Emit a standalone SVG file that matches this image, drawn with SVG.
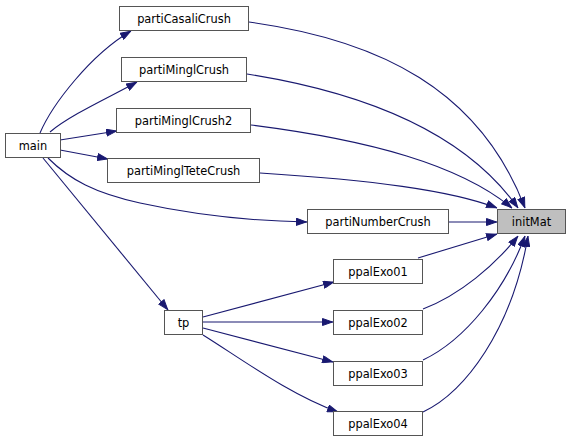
<svg xmlns="http://www.w3.org/2000/svg" width="571" height="443" viewBox="0 0 571 443">
<style>
.n rect{fill:#ffffff;stroke:#555555;stroke-width:1}
.n.root rect{fill:#bfbfbf}
.n text{font-family:"DejaVu Sans",sans-serif;font-size:11.4px;fill:#000000;text-anchor:middle}
.e path{fill:none;stroke:#191970;stroke-width:1.1;marker-end:url(#arr)}
</style>
<defs>
<marker id="arr" viewBox="0 0 11 8" refX="11" refY="4" markerWidth="11" markerHeight="8" markerUnits="userSpaceOnUse" orient="auto">
<path d="M0.5,0.5 L10.5,4 L0.5,7.5 z" fill="#191970" stroke="#191970" stroke-width="1"/>
</marker>
</defs>
<rect width="571" height="443" fill="#ffffff"/>
<g id="edges" class="e">
<path d="M40,133 C52,105 90,55 131,31"/>
<path d="M50,132 C70,115 110,97 137,82"/>
<path d="M60,140 L117,131"/>
<path d="M60,150 L108,159"/>
<path d="M48,158 C70,180 95,193 140,203 C195,215 250,221 307,222"/>
<path d="M43,158 L168,310"/>
<path d="M203,317 L334,282"/>
<path d="M203,322 L333,322"/>
<path d="M203,328 L333,362"/>
<path d="M203,335 C240,358 290,395 338,412"/>
<path d="M249,22 C380,40 480,90 525,208"/>
<path d="M247,74 C380,95 470,140 518,208"/>
<path d="M251,125 C370,140 460,165 512,208"/>
<path d="M260,173 C370,180 450,190 497,208"/>
<path d="M449,222 L497,222"/>
<path d="M418,258 L497,234"/>
<path d="M423,309 C460,295 495,265 518,236"/>
<path d="M423,360 C465,340 505,290 525,236"/>
<path d="M423,412 C465,392 512,330 528,236"/>
</g>
<g id="main" class="n"><rect x="5.5" y="133.5" width="55" height="24"/><text x="33" y="150">main</text></g>
<g id="partiCasaliCrush" class="n"><rect x="119.5" y="6.5" width="129" height="24"/><text x="184" y="23">partiCasaliCrush</text></g>
<g id="partiMinglCrush" class="n"><rect x="121.5" y="57.5" width="125" height="24"/><text x="184" y="74">partiMinglCrush</text></g>
<g id="partiMinglCrush2" class="n"><rect x="116.5" y="108.5" width="134" height="24"/><text x="183.5" y="125">partiMinglCrush2</text></g>
<g id="partiMinglTeteCrush" class="n"><rect x="107.5" y="158.5" width="152" height="24"/><text x="183.5" y="175">partiMinglTeteCrush</text></g>
<g id="partiNumberCrush" class="n"><rect x="307.5" y="209.5" width="141" height="24"/><text x="378" y="226">partiNumberCrush</text></g>
<g id="initMat" class="n root"><rect x="497.5" y="209.5" width="68" height="24"/><text x="531.5" y="226">initMat</text></g>
<g id="ppalExo01" class="n"><rect x="333.5" y="259.5" width="89" height="24"/><text x="378" y="276">ppalExo01</text></g>
<g id="ppalExo02" class="n"><rect x="333.5" y="310.5" width="89" height="24"/><text x="378" y="327">ppalExo02</text></g>
<g id="ppalExo03" class="n"><rect x="333.5" y="361.5" width="89" height="24"/><text x="378" y="378">ppalExo03</text></g>
<g id="ppalExo04" class="n"><rect x="333.5" y="411.5" width="89" height="24"/><text x="378" y="428">ppalExo04</text></g>
<g id="tp" class="n"><rect x="164.5" y="310.5" width="38" height="24"/><text x="183.5" y="327">tp</text></g>
</svg>
